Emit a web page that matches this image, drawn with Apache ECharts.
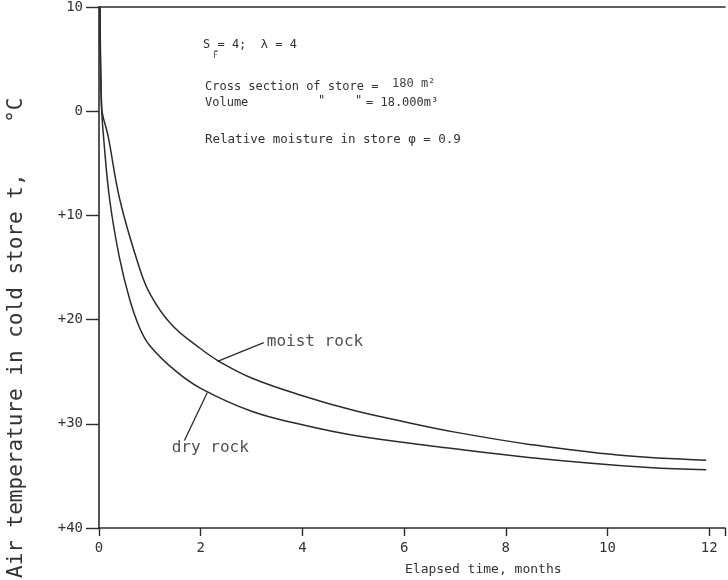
<!DOCTYPE html>
<html><head><meta charset="utf-8">
<script src="https://cdn.jsdelivr.net/npm/echarts/dist/echarts.min.js"></script>
<style>html,body{margin:0;padding:0;background:#fff}#c{width:728px;height:580px}</style>
</head><body><div id="c"></div>
<script>
// ---- data ----
const xTickValues = [0, 2, 4, 6, 8, 10, 12];
const yTickValues = [-10, 0, 10, 20, 30, 40];
const yTickLabels = ['10', '0', '+10', '+20', '+30', '+40'];

const moistTime = [0.02, 0.05, 0.18, 0.41, 0.76, 1.0, 1.43, 2.0, 2.36, 3.0, 4.0, 5.0, 6.0, 7.0, 8.5, 10.2, 11.94];
const moistTemp = [-10, -0.5, 2.4, 8.5, 14.5, 17.5, 20.5, 22.8, 24.0, 25.6, 27.3, 28.7, 29.8, 30.8, 32.0, 33.0, 33.5];

const dryTime = [0.02, 0.05, 0.09, 0.21, 0.4, 0.6, 0.8, 1.0, 1.5, 2.0, 3.0, 4.0, 5.0, 6.5, 8.4, 10.8, 11.94];
const dryTemp = [-10, -0.5, 2.5, 8.5, 14.0, 18.0, 20.8, 22.5, 24.9, 26.6, 28.8, 30.1, 31.1, 32.1, 33.2, 34.2, 34.4];

const curveNames = ['moist rock', 'dry rock'];
const leaderMoist = [[2.33, 24.0], [3.24, 22.2]];
const leaderDry = [[2.13, 27.0], [1.68, 31.6]];
const labelAnchors = [[3.3, 22.1], [1.43, 32.3]];

const xTitle = 'Elapsed time, months';
const yTitle = 'Air temperature in cold store t,    °C';

// ---- chart ----
const MONO = '"DejaVu Sans Mono", "Liberation Mono", monospace';
const INK = '#2b2b2b';
const zip = (a, b) => a.map((v, i) => [v, b[i]]);

const chart = echarts.init(document.getElementById('c'), null, {renderer: 'canvas'});
const axisLineStyle = {color: INK, width: 1.6};

chart.setOption({
  backgroundColor: '#ffffff',
  animation: false,
  grid: {left: 99, top: 7, right: 0, bottom: 52, containLabel: false},
  xAxis: [{
    type: 'value', min: 0, max: 12.31, interval: 2,
    axisLine: {show: true, onZero: false, lineStyle: axisLineStyle},
    axisTick: {show: true, length: 8, inside: false, lineStyle: {color: INK, width: 1.4}},
    axisLabel: {
      margin: 13, fontFamily: MONO, fontSize: 14, color: '#333',
      formatter: v => xTickValues.indexOf(v) >= 0 ? String(v) : ''
    },
    splitLine: {show: false}
  }, {
    type: 'value', position: 'top', min: 0, max: 12.31,
    axisLine: {show: true, onZero: false, lineStyle: axisLineStyle},
    axisTick: {show: false}, axisLabel: {show: false}, splitLine: {show: false}
  }],
  yAxis: {
    type: 'value', inverse: true, min: -10, max: 40, interval: 10,
    axisLine: {show: true, onZero: false, lineStyle: axisLineStyle},
    axisTick: {show: true, length: 13, lineStyle: {color: INK, width: 1.4}},
    axisLabel: {
      margin: 16, fontFamily: MONO, fontSize: 14, color: '#333',
      formatter: v => { const i = yTickValues.indexOf(v); return i >= 0 ? yTickLabels[i] : ''; }
    },
    splitLine: {show: false}
  },
  series: [
    {
      name: curveNames[0], type: 'line', data: zip(moistTime, moistTemp),
      symbol: 'none', smooth: 0.4,
      lineStyle: {color: INK, width: 1.5}
    },
    {
      name: curveNames[1], type: 'line', data: zip(dryTime, dryTemp),
      symbol: 'none', smooth: 0.4,
      lineStyle: {color: INK, width: 1.5}
    },
    {
      type: 'line', data: leaderMoist, symbol: 'none',
      lineStyle: {color: INK, width: 1.3}
    },
    {
      type: 'line', data: leaderDry, symbol: 'none',
      lineStyle: {color: INK, width: 1.3}
    },
    {
      type: 'scatter', symbolSize: 0,
      data: labelAnchors.map((p, i) => ({value: p, name: curveNames[i]})),
      label: {
        show: true, position: 'right', distance: 0,
        fontFamily: MONO, fontSize: 16, color: '#222',
        formatter: p => p.name
      }
    }
  ],
  graphic: [
    {type: 'text', x: 203, y: 45, style: {text: 'S = 4;  λ = 4', font: '12px ' + MONO, fill: '#333', verticalAlign: 'middle'}},
    {type: 'text', x: 213, y: 56, style: {text: 'F̄', font: '9px ' + MONO, fill: '#555', verticalAlign: 'middle'}},
    {type: 'text', x: 205, y: 87, style: {text: 'Cross section of store =', font: '12px ' + MONO, fill: '#333', verticalAlign: 'middle'}},
    {type: 'text', x: 392, y: 84, style: {text: '180 m²', font: '12px ' + MONO, fill: '#444', verticalAlign: 'middle'}},
    {type: 'text', x: 205, y: 103, style: {text: 'Volume', font: '12px ' + MONO, fill: '#333', verticalAlign: 'middle'}},
    {type: 'text', x: 318, y: 101, style: {text: '"', font: '12px ' + MONO, fill: '#333', verticalAlign: 'middle'}},
    {type: 'text', x: 355, y: 101, style: {text: '"', font: '12px ' + MONO, fill: '#333', verticalAlign: 'middle'}},
    {type: 'text', x: 366, y: 103, style: {text: '= 18.000m³', font: '12px ' + MONO, fill: '#333', verticalAlign: 'middle'}},
    {type: 'text', x: 205, y: 140, style: {text: 'Relative moisture in store φ = 0.9', font: '12.5px ' + MONO, fill: '#333', verticalAlign: 'middle'}},
    {type: 'text', x: 405, y: 570, style: {text: xTitle, font: '13px ' + MONO, fill: '#333', verticalAlign: 'middle'}},
    {type: 'text', x: 17, y: 578, rotation: Math.PI / 2, style: {text: yTitle, font: '21px ' + MONO, fill: '#333', verticalAlign: 'middle', align: 'left'}}
  ]
});
</script>
</body></html>
